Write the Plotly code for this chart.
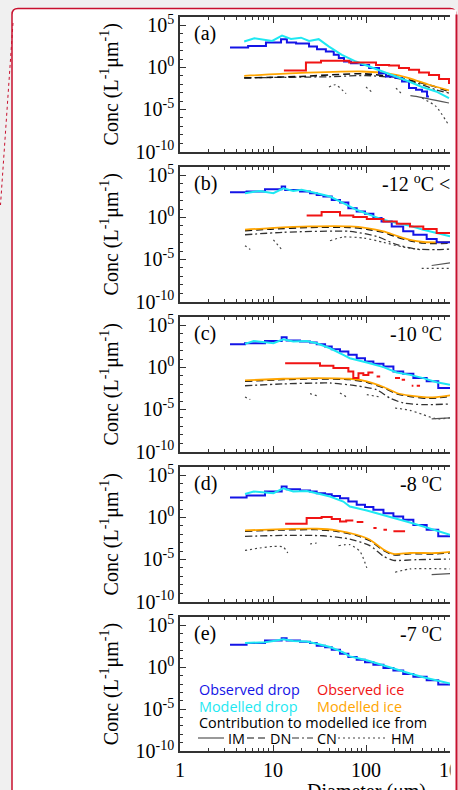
import plotly.graph_objects as go

# ---------------- data (diameter in µm, concentration in L^-1 µm^-1) ----------------
# panel (a)
a_obs_drop_d = [3.45, 5.4, 8.4, 12.2, 14.1, 17.7, 24.4, 29.7, 37, 45, 51, 58, 69, 88, 108, 138, 164, 210, 244, 290, 345, 400, 453, 475]
a_obs_drop_c = [2.3e2, 3.6e2, 9.1e2, 2.3e3, 9.1e2, 6.9e2, 3.0e2, 1.5e2, 78, 32, 13, 5.0, 3.2, 2.0, 0.83, 0.21, 0.085, 0.055, 0.021, 3.5e-3, 2.2e-3, 1.4e-3, 3.6e-4, 3.6e-4]
a_mod_drop_d = [4.9, 6.3, 9.8, 12.5, 15.6, 20, 24.4, 31, 40, 55, 78, 108, 149, 210, 290, 400, 566, 780]
a_mod_drop_c = [1.2e3, 3.0e3, 1.4e3, 6.0e3, 2.5e3, 3.5e3, 1.4e3, 2.3e3, 3.0e2, 32, 5.0, 1.3, 0.33, 0.085, 0.021, 4.7e-3, 1.4e-3, 2.3e-4]
a_obs_ice_d = [13.1, 22.6, 32.8, 66, 128, 177, 226, 290, 372, 475, 610, 780]
a_obs_ice_c = [0.44, 3.9, 6.2, 3.9, 2.0, 1.7, 0.83, 0.52, 0.25, 0.13, 0.042, 0.011]
a_mod_ice_d = [4.9, 17.7, 91, 177, 290, 475, 780]
a_mod_ice_c = [0.10, 0.21, 0.33, 0.18, 0.055, 8.7e-3, 1.9e-3]
a_dn_d = [4.9, 20, 91, 210, 345, 566, 780]
a_dn_c = [0.055, 0.085, 0.18, 0.072, 0.021, 4.7e-3, 1.4e-3]
a_cn_d = [4.9, 40, 100, 200, 345, 566, 780]
a_cn_c = [0.059, 0.078, 0.11, 0.059, 0.015, 2.2e-3, 9e-4]
a_im_d = [300, 345, 780]
a_im_c = [4.5e-4, 3.6e-4, 5.9e-5]
a_hm_d = [40, 47, 61, None, 100, 116, None, 210, 237, None, 400, 566, 780]
a_hm_c = [4.7e-3, 8.7e-3, 7.6e-4, None, 4.7e-3, 1.1e-3, None, 3.5e-3, 9.1e-4, None, 2.3e-4, 2.3e-5, 1.2e-7]

# panel (b)
b_obs_drop_d = [3.45, 5.2, 8.2, 12.4, 13.5, 19.5, 25, 29.5, 34.8, 42.8, 52.5, 64.6, 79.4, 97.5, 120, 147, 189, 251, 323, 449, 575, 800]
b_obs_drop_c = [1.0e3, 1.2e3, 2.2e3, 4.7e3, 1.9e3, 1.2e3, 7.6e2, 4.8e2, 3.1e2, 1.2e2, 59, 12.6, 5.1, 2.7, 0.83, 0.33, 0.085, 0.022, 8.7e-3, 2.7e-3, 1.1e-3, 1.1e-3]
b_mod_drop_d = [5.0, 7.2, 10.1, 12.9, 16.5, 20.3, 29.5, 41, 57, 79, 110, 154, 214, 297, 413, 575, 800]
b_mod_drop_c = [7.6e2, 1.4e3, 7.6e2, 2.9e3, 1.4e3, 1.9e3, 7.6e2, 3.1e2, 50, 8.1, 2.0, 0.52, 0.21, 0.10, 0.035, 0.014, 5.6e-3]
b_obs_ice_d = [23, 33.3, 52.5, 73, 102, 154, 214, 297, 413, 575, 800]
b_obs_ice_c = [1.7, 4.3, 1.7, 1.1, 0.63, 0.33, 0.18, 0.085, 0.042, 0.014, 0.014]
b_mod_ice_d = [5.0, 9.3, 25, 67, 102, 154, 214, 297, 413, 575, 800]
b_mod_ice_c = [0.035, 0.054, 0.085, 0.085, 0.054, 0.022, 6.6e-3, 2.2e-3, 1.2e-3, 1.1e-3, 1.2e-3]
b_dn_d = [5.0, 9.3, 25, 67, 102, 154, 214, 297, 413, 575, 800]
b_dn_c = [0.027, 0.041, 0.065, 0.065, 0.041, 0.017, 4.6e-3, 1.7e-3, 9e-4, 8e-4, 9e-4]
b_cn_d = [5.0, 12.9, 67, 130, 214, 351, 575, 800]
b_cn_c = [8.7e-3, 0.017, 0.022, 5.6e-3, 5.8e-4, 1.7e-4, 1.5e-4, 1.7e-4]
b_im_d = [508, 800]
b_im_c = [1.9e-6, 3.9e-6]
b_hm_d = [5.0, 5.7, None, 10.1, 12.4, None, 41, 57, 95, 154, 251, 381, None, 397, 800]
b_hm_c = [4.4e-4, 1.5e-4, None, 2.2e-3, 1.5e-4, None, 1.7e-3, 4.7e-3, 3.5e-3, 1.1e-3, 3.0e-4, 1.5e-4, None, 8.9e-7, 8.9e-7]

# panel (c)
c_obs_drop_d = [3.45, 5.0, 8.2, 12.4, 14.0, 19.5, 25, 29.5, 36.3, 42.8, 52.5, 64.6, 79.4, 97.5, 120, 154, 197, 251, 323, 449, 598, 800]
c_obs_drop_c = [5.8e2, 7.6e2, 1.4e3, 3.9e3, 1.6e3, 1.2e3, 9.1e2, 5.8e2, 3.1e2, 1.5e2, 78, 32, 12.6, 5.1, 2.7, 1.3, 0.33, 0.18, 0.054, 0.022, 3.5e-3, 3.5e-3]
c_mod_drop_d = [5.0, 6.2, 10.1, 12.9, 16.5, 23, 29.5, 41, 57, 67, 102, 154, 214, 297, 413, 575, 800]
c_mod_drop_c = [6.3e2, 1.4e3, 7.6e2, 2.2e3, 1.2e3, 1.4e3, 7.6e2, 1.9e2, 32, 12.6, 3.9, 1.1, 0.25, 0.13, 0.054, 0.017, 8.7e-3]
c_obs_ice_d = [13.5, 32, 44.6, 64.6, 73, 83, 93.6, 106, 120, None, 130, 142, None, 205, 232, None, 242, 263, None, 310, 323, None, 351, 381]
c_obs_ice_c = [3.2, 1.6, 0.83, 0.33, 0.054, 0.21, 0.13, 0.25, 0.25, None, 0.085, 0.085, None, 0.054, 0.054, None, 0.035, 0.035, None, 6.6e-3, 6.6e-3, None, 6.6e-3, 6.6e-3]
c_mod_ice_d = [5.0, 12.9, 29.5, 67, 102, 154, 214, 297, 449, 575, 800]
c_mod_ice_c = [0.029, 0.045, 0.054, 0.045, 0.022, 4.7e-3, 9.1e-4, 4.4e-4, 2.8e-4, 3.0e-4, 4.8e-4]
c_dn_d = [5.0, 12.9, 29.5, 67, 102, 154, 214, 297, 449, 575, 800]
c_dn_c = [0.023, 0.036, 0.043, 0.036, 0.018, 3.8e-3, 7.3e-4, 3.5e-4, 2.2e-4, 2.4e-4, 3.8e-4]
c_cn_d = [5.0, 12.9, 41, 79, 130, 180, 251, 413, 800]
c_cn_c = [6.6e-3, 0.011, 0.014, 6.6e-3, 2.2e-3, 2.3e-4, 5.9e-5, 3.7e-5, 4.5e-5]
c_im_d = [508, 800]
c_im_c = [7.5e-7, 1e-6]
c_hm_d = [5.0, 5.7, None, 25, 29.5, None, 52.5, 62, None, 102, 142, None, 205, 297, 413, 575, 800]
c_hm_c = [3.0e-4, 1.5e-4, None, 7.6e-4, 4.4e-4, None, 9.1e-4, 3.0e-4, None, 5.8e-4, 3.0e-4, None, 1.5e-5, 7.9e-6, 2.4e-6, 7.5e-7, 1e-6]

# panel (d)
d_obs_drop_d = [3.45, 5.2, 8.2, 12.4, 14.0, 19.5, 25, 29.5, 36.3, 42.8, 52.5, 64.6, 79.4, 97.5, 120, 154, 197, 251, 323, 449, 598, 800]
d_obs_drop_c = [2.4e2, 4.0e2, 1.2e3, 4.7e3, 2.2e3, 1.6e3, 1.2e3, 7.6e2, 5.8e2, 3.6e2, 1.9e2, 78, 32, 17, 8.1, 3.2, 1.3, 0.52, 0.13, 0.035, 5.6e-3, 5.6e-3]
d_mod_drop_d = [5.0, 6.2, 10.1, 12.9, 16.5, 23, 29.5, 41, 57, 67, 102, 154, 214, 297, 413, 575, 800]
d_mod_drop_c = [6.3e2, 1.2e3, 7.6e2, 2.9e3, 1.2e3, 1.4e3, 7.6e2, 3.1e2, 78, 20, 6.7, 2.0, 0.63, 0.25, 0.085, 0.026, 8.7e-3]
d_obs_ice_d = [13.5, 23, 33.3, 42.8, 52.5, 61.2, 73, None, 79.4, 93.6, None, 120, 130, None, 154, 168, None, 197, 263]
d_obs_ice_c = [0.18, 0.83, 1.1, 0.63, 0.33, 0.44, 0.44, None, 0.28, 0.28, None, 0.054, 0.054, None, 0.035, 0.035, None, 0.022, 0.022]
d_mod_ice_d = [5.0, 12.9, 29.5, 48, 79.4, 110, 154, 197, 297, 575, 800]
d_mod_ice_c = [0.029, 0.041, 0.045, 0.029, 8.7e-3, 2.2e-3, 1.5e-4, 4.5e-5, 5.9e-5, 5.9e-5, 7.8e-5]
d_dn_d = [5.0, 12.9, 29.5, 48, 79.4, 110, 154, 197, 297, 575, 800]
d_dn_c = [0.023, 0.033, 0.036, 0.023, 7.0e-3, 1.8e-3, 1.2e-4, 3.6e-5, 4.7e-5, 4.7e-5, 6.2e-5]
d_cn_d = [5.0, 12.9, 34.8, 67, 110, 154, 197, 351, 800]
d_cn_c = [5.6e-3, 7.3e-3, 6.6e-3, 2.7e-3, 4.4e-4, 2.4e-5, 7.9e-6, 9.5e-6, 1.1e-5]
d_im_d = [508, 800]
d_im_c = [1.6e-7, 2.1e-7]
d_hm_d = [5.0, 7.2, 10.1, 12.9, 14.4, None, 25, 29.5, None, 50.7, 67, 86, 102, None, 205, 297, 800]
d_hm_c = [1.2e-4, 2.3e-4, 3.6e-4, 3.0e-4, 5.9e-5, None, 6.9e-4, 9.1e-4, None, 4.4e-4, 5.8e-4, 9.4e-5, 1e-6, None, 3.0e-7, 7.5e-7, 7.5e-7]

# panel (e)
e_obs_drop_d = [3.45, 5.2, 8.2, 12.4, 14.0, 19.5, 25, 29.5, 36.3, 42.8, 52.5, 64.6, 79.4, 97.5, 120, 154, 197, 251, 323, 449, 598, 800]
e_obs_drop_c = [4.8e2, 7.6e2, 1.6e3, 2.9e3, 1.6e3, 1.1e3, 7.6e2, 3.6e2, 2.4e2, 1.2e2, 42, 17, 8.1, 3.9, 2.0, 0.83, 0.40, 0.16, 0.071, 0.029, 8.7e-3, 8.7e-3]
e_mod_drop_d = [5.0, 8.2, 10.1, 12.9, 16.5, 23, 29.5, 41, 57, 67, 102, 154, 214, 297, 413, 575, 800]
e_mod_drop_c = [7.6e2, 1.0e3, 1.4e3, 2.2e3, 1.4e3, 1.2e3, 6.3e2, 2.6e2, 59, 20, 6.7, 1.6, 0.52, 0.18, 0.065, 0.029, 0.011]

panel_labels = ["(a)", "(b)", "(c)", "(d)", "(e)"]
temp_labels = ["", "-12 <sup>o</sup>C < T < -10 <sup>o</sup>C", "-10 <sup>o</sup>C", "-8 <sup>o</sup>C", "-7 <sup>o</sup>C"]
x_tick_vals = [1, 10, 100, 1000]
x_tick_text = ["1", "10", "100", "1000"]
y_tick_vals = [1e-10, 1e-5, 1, 1e5]
y_tick_text = ["10<sup>-10</sup>", "10<sup>-5</sup>", "10<sup>0</sup>", "10<sup>5</sup>"]
legend_names = ["Observed drop", "Observed ice", "Modelled drop", "Modelled ice"]
contrib_names = ["IM", "DN", "CN", "HM"]

panels = [
    dict(obs_drop=(a_obs_drop_d, a_obs_drop_c), mod_drop=(a_mod_drop_d, a_mod_drop_c),
         obs_ice=(a_obs_ice_d, a_obs_ice_c), mod_ice=(a_mod_ice_d, a_mod_ice_c),
         dn=(a_dn_d, a_dn_c), cn=(a_cn_d, a_cn_c), im=(a_im_d, a_im_c), hm=(a_hm_d, a_hm_c)),
    dict(obs_drop=(b_obs_drop_d, b_obs_drop_c), mod_drop=(b_mod_drop_d, b_mod_drop_c),
         obs_ice=(b_obs_ice_d, b_obs_ice_c), mod_ice=(b_mod_ice_d, b_mod_ice_c),
         dn=(b_dn_d, b_dn_c), cn=(b_cn_d, b_cn_c), im=(b_im_d, b_im_c), hm=(b_hm_d, b_hm_c)),
    dict(obs_drop=(c_obs_drop_d, c_obs_drop_c), mod_drop=(c_mod_drop_d, c_mod_drop_c),
         obs_ice=(c_obs_ice_d, c_obs_ice_c), mod_ice=(c_mod_ice_d, c_mod_ice_c),
         dn=(c_dn_d, c_dn_c), cn=(c_cn_d, c_cn_c), im=(c_im_d, c_im_c), hm=(c_hm_d, c_hm_c)),
    dict(obs_drop=(d_obs_drop_d, d_obs_drop_c), mod_drop=(d_mod_drop_d, d_mod_drop_c),
         obs_ice=(d_obs_ice_d, d_obs_ice_c), mod_ice=(d_mod_ice_d, d_mod_ice_c),
         dn=(d_dn_d, d_dn_c), cn=(d_cn_d, d_cn_c), im=(d_im_d, d_im_c), hm=(d_hm_d, d_hm_c)),
    dict(obs_drop=(e_obs_drop_d, e_obs_drop_c), mod_drop=(e_mod_drop_d, e_mod_drop_c)),
]

# ---------------- styling ----------------
W, H = 458, 790
ML, MR, MT, MB = 180, 8, 17, 39
PW, PH = W - ML - MR, H - MT - MB
SERIF = "Liberation Serif, Times New Roman, serif"
SANS = "Open Sans, sans-serif"
CRIMSON = "#c8102e"
AX = "#333333"

BLUE, CYAN, RED, ORANGE = "#1414e6", "#1ee8f2", "#f01414", "#ffa500"
styles = {
    "hm": dict(color="#444444", width=1.2, dash="2px,3px"),
    "im": dict(color="#555555", width=1.2),
    "cn": dict(color="#333333", width=1.3, dash="7px,3px,2px,3px"),
    "dn": dict(color="#111111", width=1.6, dash="7px,4px"),
    "mod_ice": dict(color=ORANGE, width=1.8),
    "obs_drop": dict(color=BLUE, width=2),
    "mod_drop": dict(color=CYAN, width=2),
    "obs_ice": dict(color=RED, width=2),
}
step_keys = {"obs_drop", "obs_ice"}
order = ["hm", "im", "cn", "dn", "mod_ice", "obs_drop", "mod_drop", "obs_ice"]

def px_x(p):  # pixel -> paper
    return (p - ML) / PW

def px_y(p):
    return (H - MB - p) / PH

fig = go.Figure()
panel_tops = [17, 167, 317, 467, 617]
panel_h = 134.5

layout = {}
for i, pdata in enumerate(panels):
    n = i + 1
    sx = "" if n == 1 else str(n)
    top = panel_tops[i]
    dom = [px_y(top + panel_h), px_y(top)]
    dom = [max(0.0, dom[0]), min(1.0, dom[1])]
    for key in order:
        if key not in pdata:
            continue
        d, c = pdata[key]
        st = styles[key]
        shape = "hv" if key in step_keys else ("linear" if key == "mod_drop" else "spline")
        fig.add_trace(go.Scatter(
            x=d, y=c, mode="lines", xaxis="x" + sx, yaxis="y" + sx,
            line=dict(color=st["color"], width=st["width"], dash=st.get("dash", "solid"),
                      shape=shape, **({"smoothing": 0.6} if shape == "spline" else {})),
            connectgaps=False, showlegend=False, hoverinfo="skip"))
    minor_x = [m * 10 ** k for k in range(0, 3) for m in range(2, 10)]
    layout["xaxis" + sx] = dict(
        type="log", range=[0, 2.903], domain=[0, 1], anchor="y" + sx,
        showline=True, linecolor=AX, linewidth=1.5, mirror="ticks",
        ticks="inside", ticklen=6, tickwidth=1, tickcolor=AX,
        tickmode="array", tickvals=x_tick_vals, ticktext=x_tick_text,
        showticklabels=(n == 5), tickfont=dict(family=SERIF, size=20, color="black"),
        minor=dict(ticks="inside", ticklen=3, tickwidth=1, tickcolor=AX, tickmode="array", tickvals=minor_x),
        showgrid=False, zeroline=False, automargin=False)
    layout["yaxis" + sx] = dict(
        type="log", range=[-10, 6], domain=dom, anchor="x" + sx,
        showline=True, linecolor=AX, linewidth=1.5, mirror=False,
        ticks="inside", ticklen=6, tickwidth=1, tickcolor=AX,
        tickmode="array", tickvals=y_tick_vals, ticktext=y_tick_text,
        tickfont=dict(family=SERIF, size=20, color="black"),
        minor=dict(ticks="inside", ticklen=3, tickwidth=1, tickcolor=AX, tickmode="array",
                   tickvals=[10.0 ** k for k in range(-10, 7)]),
        title=dict(text="Conc (L<sup>-1</sup>μm<sup>-1</sup>)", font=dict(family=SERIF, size=20, color="black"), standoff=12),
        showgrid=False, zeroline=False, automargin=False)

annotations = []
for i in range(5):
    n = i + 1
    sx = "" if n == 1 else str(n)
    annotations.append(dict(text=panel_labels[i], xref="x" + sx + " domain", yref="y" + sx + " domain",
                            x=0.044, y=0.88, xanchor="left", yanchor="middle", showarrow=False,
                            font=dict(family=SERIF, size=20, color="black")))
    if temp_labels[i]:
        if i == 1:
            annotations.append(dict(text=temp_labels[i], xref="x" + sx + " domain", yref="y" + sx + " domain",
                                    x=px_x(380), y=0.88, xanchor="left", yanchor="middle", showarrow=False,
                                    font=dict(family=SERIF, size=20, color="black")))
        else:
            annotations.append(dict(text=temp_labels[i], xref="x" + sx + " domain", yref="y" + sx + " domain",
                                    x=px_x(444), y=0.88, xanchor="right", yanchor="middle", showarrow=False,
                                    font=dict(family=SERIF, size=20, color="black")))

# legend texts in panel (e)
leg_cols = [BLUE, RED, CYAN, ORANGE]
leg_pos = [(197, 689), (315, 689), (197, 706), (315, 706)]
for name, col, (xx, yy) in zip(legend_names, leg_cols, leg_pos):
    annotations.append(dict(text=name, xref="paper", yref="paper", x=px_x(xx), y=px_y(yy),
                            xanchor="left", yanchor="middle", showarrow=False,
                            font=dict(family=SANS, size=14.4, color=col)))
annotations.append(dict(text="Contribution to modelled ice from", xref="paper", yref="paper",
                        x=px_x(197), y=px_y(722), xanchor="left", yanchor="middle", showarrow=False,
                        font=dict(family=SANS, size=14.4, color="black")))
contrib_x = [226, 268, 315, 389]
for name, xx in zip(contrib_names, contrib_x):
    annotations.append(dict(text=name, xref="paper", yref="paper", x=px_x(xx), y=px_y(738),
                            xanchor="left", yanchor="middle", showarrow=False,
                            font=dict(family=SANS, size=14.4, color="black")))

# x axis title (partly below the visible area) and cut-off 1000 label
annotations.append(dict(text="Diameter (μm)", xref="paper", yref="paper", x=px_x(366), y=px_y(778),
                        xanchor="center", yanchor="top", showarrow=False,
                        font=dict(family=SERIF, size=20, color="black")))
annotations.append(dict(text="1000", xref="paper", yref="paper", x=px_x(459), y=px_y(770),
                        xanchor="center", yanchor="middle", showarrow=False,
                        font=dict(family=SERIF, size=20, color="black")))
# right-hand crop strips (white, card border, page background)
annotations.append(dict(text=" ", xref="paper", yref="paper", x=px_x(450), y=px_y(400), xanchor="left",
                        yanchor="middle", width=5, height=780, borderpad=0, bgcolor="white", showarrow=False))
annotations.append(dict(text=" ", xref="paper", yref="paper", x=px_x(455), y=px_y(403), xanchor="left",
                        yanchor="middle", width=1.6, height=776, borderpad=0, bgcolor=CRIMSON, showarrow=False))
annotations.append(dict(text=" ", xref="paper", yref="paper", x=px_x(456.6), y=px_y(395), xanchor="left",
                        yanchor="middle", width=3, height=790, borderpad=0, bgcolor="#f0f0f0", showarrow=False))

# shapes: card, dotted edge, legend line samples
x0, x1 = px_x(12), px_x(456)
yt, yb = px_y(8.5), px_y(800)
rx, ry = 6 / PW, 6 / PH
card_path = (f"M {x0},{yb} L {x0},{yt - ry} Q {x0},{yt} {x0 + rx},{yt} "
             f"L {x1 - rx},{yt} Q {x1},{yt} {x1},{yt - ry} L {x1},{yb} Z")
shapes = [
    dict(type="path", path=card_path, xref="paper", yref="paper", fillcolor="white",
         line=dict(color=CRIMSON, width=1.5), layer="below"),
    dict(type="line", xref="paper", yref="paper", x0=px_x(13), y0=px_y(23), x1=px_x(0.5), y1=px_y(205),
         line=dict(color=CRIMSON, width=1, dash="dot"), layer="above"),
]
sample_specs = [((198, 224), "im"), ((247, 267), "dn"), ((292, 313), "cn"), ((338, 388), "hm")]
for (xa, xb), key in sample_specs:
    st = styles[key]
    shapes.append(dict(type="line", xref="paper", yref="paper", x0=px_x(xa), x1=px_x(xb),
                       y0=px_y(738), y1=px_y(738),
                       line=dict(color=st["color"], width=1.2, dash=st.get("dash", "solid"))))

fig.update_layout(
    width=W, height=H, margin=dict(l=ML, r=MR, t=MT, b=MB, pad=0),
    paper_bgcolor="#f0f0f0", plot_bgcolor="rgba(0,0,0,0)",
    template="none", showlegend=False,
    annotations=annotations, shapes=shapes, **layout)

fig.write_html("out.html")
